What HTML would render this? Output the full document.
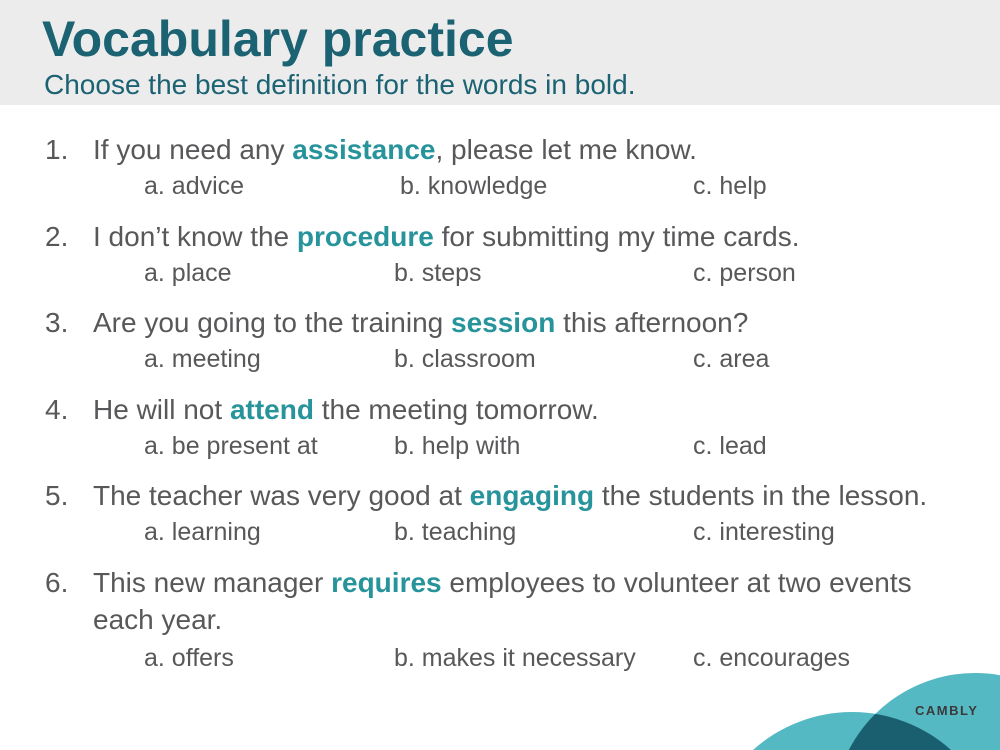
<!DOCTYPE html>
<html style="overflow:hidden"><head><meta charset="utf-8"><style>
*{margin:0;padding:0}
html,body{width:1000px;height:750px;overflow:hidden}
body{position:relative;background:#fff;font-family:"Liberation Sans",Arial,sans-serif;color:#58585a}
.t{position:absolute;white-space:nowrap;line-height:1}
.q{font-size:28px}
.o{font-size:25px}
b{color:#27939b}
</style></head><body>
<div style="position:absolute;left:0;top:0;width:1000px;height:105px;background:#ececec"></div>
<div class="t" style="left:42px;top:14px;font-size:50px;font-weight:bold;color:#1b6272">Vocabulary practice</div>
<div class="t" style="left:44px;top:71px;font-size:28px;color:#1b6272">Choose the best definition for the words in bold.</div>

<div class="t q" style="left:45px;top:136px">1.</div>
<div class="t q" style="left:93px;top:136px">If you need any <b>assistance</b>, please let me know.</div>
<div class="t o" style="left:144px;top:174px">a. advice</div>
<div class="t o" style="left:400px;top:174px">b. knowledge</div>
<div class="t o" style="left:693px;top:174px">c. help</div>

<div class="t q" style="left:45px;top:223px">2.</div>
<div class="t q" style="left:93px;top:223px">I don’t know the <b>procedure</b> for submitting my time cards.</div>
<div class="t o" style="left:144px;top:261px">a. place</div>
<div class="t o" style="left:394px;top:261px">b. steps</div>
<div class="t o" style="left:693px;top:261px">c. person</div>

<div class="t q" style="left:45px;top:309px">3.</div>
<div class="t q" style="left:93px;top:309px">Are you going to the training <b>session</b> this afternoon?</div>
<div class="t o" style="left:144px;top:347px">a. meeting</div>
<div class="t o" style="left:394px;top:347px">b. classroom</div>
<div class="t o" style="left:693px;top:347px">c. area</div>

<div class="t q" style="left:45px;top:396px">4.</div>
<div class="t q" style="left:93px;top:396px">He will not <b>attend</b> the meeting tomorrow.</div>
<div class="t o" style="left:144px;top:434px">a. be present at</div>
<div class="t o" style="left:394px;top:434px">b. help with</div>
<div class="t o" style="left:693px;top:434px">c. lead</div>

<div class="t q" style="left:45px;top:482px">5.</div>
<div class="t q" style="left:93px;top:482px">The teacher was very good at <b>engaging</b> the students in the lesson.</div>
<div class="t o" style="left:144px;top:520px">a. learning</div>
<div class="t o" style="left:394px;top:520px">b. teaching</div>
<div class="t o" style="left:693px;top:520px">c. interesting</div>

<div class="t q" style="left:45px;top:569px">6.</div>
<div class="t q" style="left:93px;top:569px">This new manager <b>requires</b> employees to volunteer at two events</div>
<div class="t q" style="left:93px;top:606px">each year.</div>
<div class="t o" style="left:144px;top:646px">a. offers</div>
<div class="t o" style="left:394px;top:646px">b. makes it necessary</div>
<div class="t o" style="left:693px;top:646px">c. encourages</div>

<svg style="position:absolute;left:0;top:0;overflow:hidden" width="1000" height="750">
<defs><clipPath id="cr"><path d="M848.8,750 A142,142 0 0 1 1000,675.2 L1000,750 Z"/></clipPath></defs>
<path d="M848.8,750 A142,142 0 0 1 1000,675.2 L1000,750 Z" fill="#55b9c4"/>
<path d="M753,750 A148,148 0 0 1 951,750 Z" fill="#55b9c4"/>
<path d="M753,750 A148,148 0 0 1 951,750 Z" fill="#1a5f6f" clip-path="url(#cr)"/>
<text x="915" y="715" font-family="Liberation Sans, sans-serif" font-size="13" font-weight="bold" letter-spacing="1.5" fill="#3a3a3a">CAMBLY</text>
</svg>
</body></html>
